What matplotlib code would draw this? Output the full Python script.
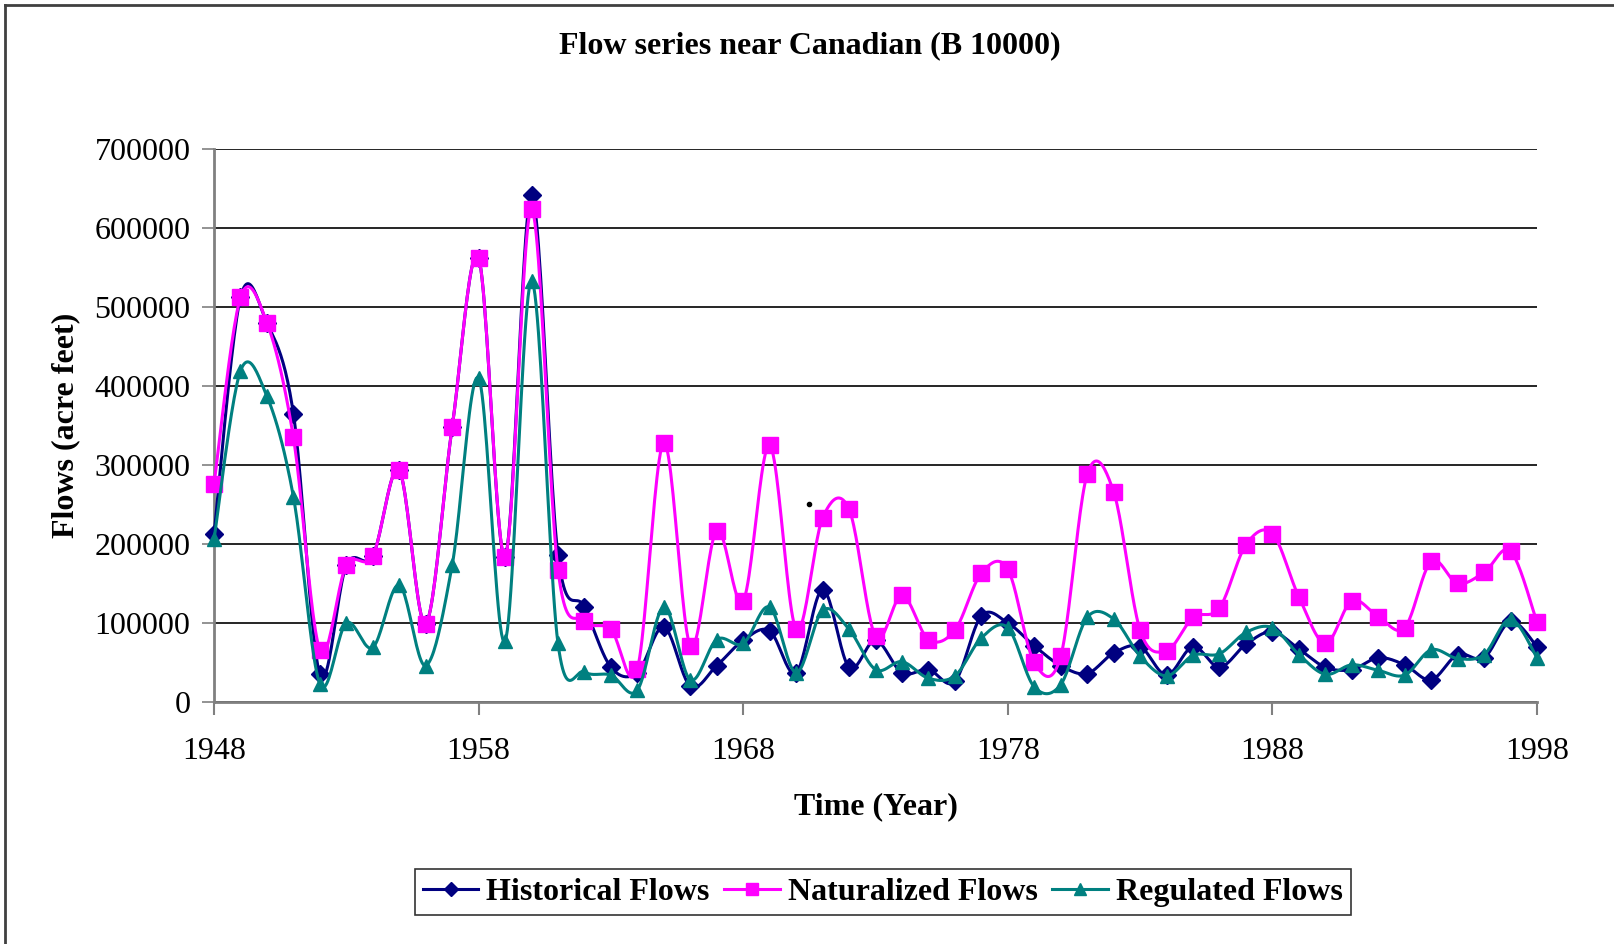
import numpy as np
import matplotlib
matplotlib.use('Agg')
import matplotlib.pyplot as plt
from matplotlib.lines import Line2D

plt.rcParams['font.family'] = ['Liberation Serif', 'DejaVu Serif']

# --- data (acre feet), 1948-1998 ---
years = list(range(1948, 1999))

historical = [212000, 512000, 480000, 365000, 35000, 173000, 185000, 293000, 99000, 348000,
              562000, 184000, 642000, 186000, 120000, 44000, 37000, 95000, 20000, 46000,
              78000, 90000, 37000, 142000, 44000, 78000, 37000, 41000, 26000, 109000,
              100000, 71000, 46000, 36000, 62000, 70000, 34000, 70000, 44000, 73000,
              89000, 67000, 44000, 41000, 56000, 47000, 28000, 60000, 56000, 102000, 70000]

naturalized = [276000, 512000, 480000, 335000, 66000, 173000, 185000, 293000, 99000, 348000,
               562000, 184000, 624000, 167000, 103000, 92000, 42000, 328000, 71000, 217000,
               128000, 325000, 92000, 233000, 244000, 83000, 135000, 79000, 91000, 163000,
               168000, 50000, 58000, 288000, 266000, 91000, 65000, 107000, 119000, 199000,
               213000, 133000, 74000, 128000, 108000, 94000, 178000, 150000, 164000, 191000, 101000]

regulated = [206000, 419000, 387000, 260000, 23000, 100000, 69000, 148000, 46000, 173000,
             410000, 77000, 533000, 74000, 38000, 34000, 15000, 120000, 28000, 79000,
             74000, 120000, 37000, 116000, 92000, 41000, 51000, 30000, 33000, 81000,
             94000, 19000, 22000, 107000, 105000, 58000, 33000, 59000, 61000, 88000,
             94000, 60000, 35000, 47000, 40000, 34000, 66000, 55000, 60000, 105000, 56000]

# stray dot in the original
stray_x = [1970.5]
stray_y = [251000]

y_ticks = [0, 100000, 200000, 300000, 400000, 500000, 600000, 700000]
x_ticks = [1948, 1958, 1968, 1978, 1988, 1998]


def smooth(xs, ys, n=24):
    # Excel-style smoothed line: cubic bezier through points
    x = np.asarray(xs, float)
    y = np.asarray(ys, float)
    px = np.concatenate([[x[0]], x, [x[-1]]])
    py = np.concatenate([[y[0]], y, [y[-1]]])
    t = np.linspace(0, 1, n)[:, None]
    out_x, out_y = [], []
    for i in range(len(x) - 1):
        p0x, p0y = x[i], y[i]
        p3x, p3y = x[i + 1], y[i + 1]
        c1x = p0x + (px[i + 2] - px[i]) / 6
        c1y = p0y + (py[i + 2] - py[i]) / 6
        c2x = p3x - (px[i + 3] - px[i + 1]) / 6
        c2y = p3y - (py[i + 3] - py[i + 1]) / 6
        bx = (1 - t) ** 3 * p0x + 3 * (1 - t) ** 2 * t * c1x + 3 * (1 - t) * t ** 2 * c2x + t ** 3 * p3x
        by = (1 - t) ** 3 * p0y + 3 * (1 - t) ** 2 * t * c1y + 3 * (1 - t) * t ** 2 * c2y + t ** 3 * p3y
        out_x.append(bx.ravel())
        out_y.append(by.ravel())
    return np.concatenate(out_x), np.concatenate(out_y)


fig = plt.figure(figsize=(16.14, 9.44), dpi=100)
ax = fig.add_axes([0.1326, 0.2564, 0.8197, 0.5858])

series = [
    ('Historical Flows', historical, '#000080', 'D', 8.8),
    ('Naturalized Flows', naturalized, '#FF00FF', 's', 11),
    ('Regulated Flows', regulated, '#008080', '^', 10.5),
]
handles = []
for i, (name, vals, col, mk, ms) in enumerate(series):
    sx, sy = smooth(years, vals)
    ax.plot(sx, sy, color=col, lw=2.2, zorder=3 + i, clip_on=False)
    ax.plot(years, vals, ls='none', marker=mk, ms=ms, color=col, mec=col, zorder=3 + i, clip_on=False)
    handles.append(Line2D([], [], color=col, lw=2.2, marker=mk, ms=ms * 0.85, mec=col, label=name))

ax.plot(stray_x, stray_y, 'o', color='black', ms=3, zorder=8)

ax.set_xlim(1948, 1998)
ax.set_ylim(0, 700000)
ax.set_xticks(x_ticks)
ax.set_yticks(y_ticks)
ax.set_xticklabels([str(v) for v in x_ticks], fontsize=23)
ax.set_yticklabels([str(v) for v in y_ticks], fontsize=23)
ax.tick_params(axis='x', direction='out', length=9, width=1.5, color='#808080', pad=16)
ax.tick_params(axis='y', direction='out', length=9, width=1.2, color='#808080', pad=8)
ax.yaxis.grid(True, color='black', lw=1.2)
ax.set_axisbelow(True)
for s in ['top', 'right']:
    ax.spines[s].set_visible(False)
for s in ['left', 'bottom']:
    ax.spines[s].set_color('#808080')
    ax.spines[s].set_linewidth(2)

ax.set_xlabel('Time (Year)', fontsize=23, fontweight='bold', labelpad=19)
ax.set_ylabel('Flows (acre feet)', fontsize=23, fontweight='bold', labelpad=10)
fig.text(0.5016, 0.952, 'Flow series near Canadian (B 10000)', ha='center', va='center',
         fontsize=23, fontweight='bold')

leg = fig.legend(handles=handles, loc='center', bbox_to_anchor=(0.547, 0.055), ncol=3,
                 frameon=True, fancybox=False, edgecolor='black',
                 prop={'weight': 'bold', 'size': 23}, handlelength=1.75, handletextpad=0.25,
                 columnspacing=0.45, borderpad=0.25, borderaxespad=0)
leg.get_frame().set_linewidth(1.2)

# outer chart frame (left and top edges visible)
fig.add_artist(Line2D([0.0031, 0.0031], [0, 0.9947], transform=fig.transFigure, color='#404040', lw=2))
fig.add_artist(Line2D([0.0031, 1], [0.9947, 0.9947], transform=fig.transFigure, color='#404040', lw=2))

plt.savefig('out.png', dpi=100, facecolor='white')
